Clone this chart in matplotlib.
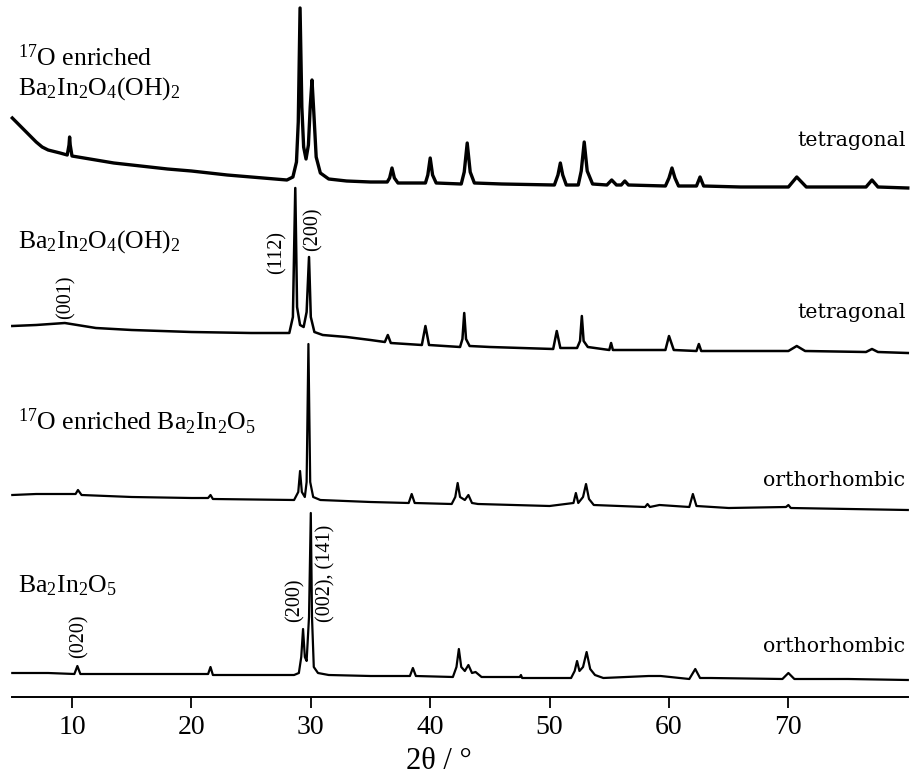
import numpy as np
import matplotlib
matplotlib.use("Agg")
import matplotlib.pyplot as plt

plt.rcParams['font.family'] = ['Liberation Serif', 'DejaVu Serif']
plt.rcParams['mathtext.fontset'] = 'custom'
plt.rcParams['mathtext.rm'] = 'Liberation Serif'
plt.rcParams['mathtext.default'] = 'regular'

# ---- data (2theta in degrees, intensity in arbitrary units, offsets included)
tt_bio5 = [5.0, 8.0, 10.2, 10.45, 10.7, 15.0, 21.4, 21.6, 21.8, 28.6, 29.0, 29.2, 29.35, 29.5, 29.65,
           29.85, 30.0, 30.1, 30.25, 30.6, 31.5, 35.0, 38.3, 38.55, 38.8, 41.9, 42.2, 42.4, 42.6, 42.9,
           43.2, 43.5, 43.8, 44.3, 47.5, 47.6, 47.7, 51.8, 52.1, 52.3, 52.5, 52.8, 53.1, 53.4, 53.8,
           54.5, 58.3, 59.3, 61.7, 62.2, 62.6, 63.5, 69.5, 70.0, 70.5, 75.0, 80.0]
int_bio5 = [24, 24, 23, 31, 23, 23, 23, 30, 22, 22, 24, 40, 68, 40, 36,
            80, 184, 80, 30, 24, 22, 21, 21, 29, 21, 20, 30, 48, 30, 26,
            32, 24, 25, 20, 20, 22, 19, 19, 26, 36, 26, 30, 45, 28, 22,
            19, 21, 21, 18, 28, 19, 19, 18, 24, 18, 18, 17]

tt_bio5_17 = [5.0, 7.0, 10.3, 10.5, 10.8, 15.0, 20.0, 21.4, 21.6, 21.8, 28.6, 28.95, 29.1, 29.25, 29.5,
              29.65, 29.8, 29.95, 30.2, 30.8, 35.0, 38.2, 38.45, 38.7, 41.8, 42.1, 42.3, 42.5, 42.9, 43.2,
              43.5, 44.0, 50.0, 52.0, 52.2, 52.4, 52.8, 53.05, 53.3, 53.7, 58.0, 58.2, 58.4, 59.2, 61.7,
              62.0, 62.3, 65.0, 69.8, 70.0, 70.2, 80.0]
int_bio5_17 = [202, 203, 203, 207, 202, 200, 199, 199, 202, 198, 197, 205, 226, 205, 200,
               215, 353, 215, 200, 197, 195, 194, 203, 194, 193, 200, 214, 200, 197, 202,
               194, 193, 191, 194, 204, 194, 200, 213, 198, 192, 190, 193, 190, 192, 190,
               203, 191, 189, 190, 192, 189, 187]

tt_bioh = [5.0, 7.0, 9.4, 12.0, 15.0, 20.0, 25.0, 28.2, 28.5, 28.7, 28.85, 29.1, 29.4, 29.65, 29.85,
           30.0, 30.3, 31.0, 33.0, 35.0, 36.2, 36.45, 36.7, 39.3, 39.6, 39.9, 42.5, 42.7, 42.85, 43.0,
           43.3, 45.0, 50.3, 50.6, 50.9, 52.3, 52.55, 52.7, 52.85, 53.2, 55.0, 55.15, 55.3, 59.7, 60.0,
           60.4, 62.3, 62.5, 62.7, 70.0, 70.7, 71.4, 76.5, 77.0, 77.5, 80.0]
int_bioh = [371, 372, 374, 369, 367, 365, 364, 364, 380, 509, 390, 372, 370, 385, 440,
            380, 365, 362, 360, 357, 355, 362, 354, 352, 371, 352, 350, 358, 384, 358,
            351, 350, 348, 366, 349, 349, 356, 381, 356, 350, 347, 354, 347, 347, 361,
            347, 346, 353, 346, 346, 351, 346, 345, 348, 345, 344]

tt_bioh_17 = [5.0, 5.5, 6.0, 6.5, 7.0, 7.5, 8.0, 9.0, 9.6, 9.75, 9.8, 9.85, 10.0, 11.0, 12.0,
              13.5, 15.0, 18.0, 20.0, 23.0, 26.0, 28.0, 28.5, 28.8, 28.95, 29.1, 29.25, 29.4, 29.6, 29.8,
              29.95, 30.1, 30.25, 30.45, 30.8, 31.5, 33.0, 35.0, 36.4, 36.6, 36.8, 37.0, 37.3, 39.6, 39.8,
              40.0, 40.2, 40.5, 42.6, 42.85, 43.1, 43.35, 43.7, 46.0, 50.4, 50.7, 50.9, 51.1, 51.4, 52.4,
              52.65, 52.9, 53.15, 53.6, 54.8, 55.2, 55.6, 56.0, 56.3, 56.6, 59.7, 60.0, 60.25, 60.5, 60.8,
              62.3, 62.6, 62.9, 66.0, 70.0, 70.7, 71.5, 76.5, 77.0, 77.5, 80.0]
int_bioh_17 = [579, 573, 567, 561, 555, 550, 547, 544, 542, 552, 560, 552, 541, 539, 537,
               534, 532, 528, 526, 522, 519, 517, 520, 535, 575, 689, 590, 550, 538, 552,
               590, 617, 585, 540, 524, 518, 516, 515, 515, 519, 529, 519, 514, 514, 522,
               539, 522, 514, 513, 525, 554, 525, 514, 513, 512, 522, 534, 522, 512, 512,
               526, 555, 526, 513, 512, 517, 512, 512, 516, 512, 511, 519, 529, 519, 511,
               511, 520, 511, 510, 510, 520, 510, 510, 517, 510, 509]

sample_names = ['$^{17}$O enriched\nBa$_2$In$_2$O$_4$(OH)$_2$',
                'Ba$_2$In$_2$O$_4$(OH)$_2$',
                '$^{17}$O enriched Ba$_2$In$_2$O$_5$',
                'Ba$_2$In$_2$O$_5$']
name_y = [624, 455, 275, 111]
phases = ['tetragonal', 'tetragonal', 'orthorhombic', 'orthorhombic']
phase_y = [557, 385, 217, 51]

hkl_text = ['(001)', '(112)', '(200)', '(020)', '(200)', '(002), (141)']
hkl_x = [9.5, 27.2, 30.2, 10.6, 28.7, 31.3]
hkl_y = [400, 444, 468, 61, 97, 124]

fig = plt.figure(figsize=(9.12, 7.78), dpi=100)
ax = fig.add_axes([12.3 / 912, 81 / 778, 895.5 / 912, 697 / 778])

ax.plot(tt_bioh_17, int_bioh_17, color='black', lw=2.4, clip_on=False)
ax.plot(tt_bioh, int_bioh, color='black', lw=1.8, clip_on=False)
ax.plot(tt_bio5_17, int_bio5_17, color='black', lw=1.6, clip_on=False)
ax.plot(tt_bio5, int_bio5, color='black', lw=1.6, clip_on=False)

for name, y in zip(sample_names, name_y):
    ax.text(5.45, y, name, fontsize=18.5, ha='left', va='center', linespacing=1.25)
for ph, y in zip(phases, phase_y):
    ax.text(79.8, y, ph, fontsize=14.8, ha='right', va='center', family='DejaVu Serif')
for t, x, y in zip(hkl_text, hkl_x, hkl_y):
    ax.text(x, y, t, fontsize=14.5, rotation=90, ha='center', va='center')

ax.set_xlim(5, 80)
ax.set_ylim(0, 697)
ax.set_xticks([10, 20, 30, 40, 50, 60, 70])
ax.set_yticks([])
for s in ['left', 'right', 'top']:
    ax.spines[s].set_visible(False)
ax.spines['bottom'].set_linewidth(1.4)
ax.tick_params(axis='x', direction='out', length=8, width=1.3, labelsize=20, pad=5)
ax.set_xlabel('2θ / °', fontsize=22)
ax.xaxis.set_label_coords(0.476, -0.072)

fig.savefig('out.png', dpi=100)
